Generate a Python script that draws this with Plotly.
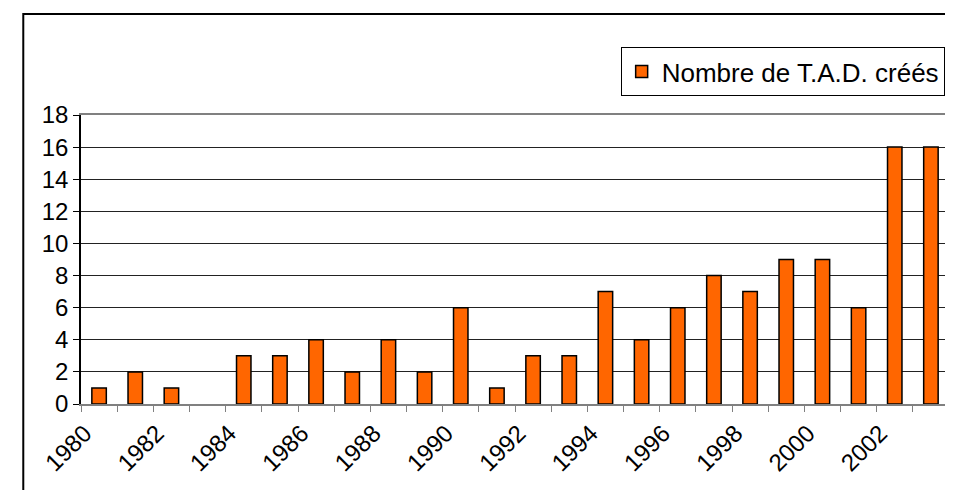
import plotly.graph_objects as go

years = list(range(1980, 2004))
counts = [1, 2, 1, 0, 3, 3, 4, 2, 4, 2, 6, 1, 3, 3, 7, 4, 6, 8, 7, 9, 9, 6, 16, 16]
label_years = list(range(1980, 2004, 2))
series_name = "Nombre de T.A.D. créés"

fig = go.Figure()
fig.add_trace(go.Bar(
    x=years, y=counts, name=series_name,
    marker=dict(color="#FF6600",
                line=dict(color="black", width=[1.5 if c else 0 for c in counts])),
))

# page has an 8px body margin, so the figure is a bit smaller than the window
fig.update_layout(
    width=945, height=482,
    margin=dict(l=73, r=4, t=107, b=86),
    paper_bgcolor="white", plot_bgcolor="white",
    font=dict(family="Liberation Sans, Arial", size=24, color="black"),
    bargap=0.6,
    showlegend=True,
    legend=dict(
        x=0.995, y=1.235, xanchor="right", yanchor="top",
        bordercolor="black", borderwidth=1, bgcolor="white",
        font=dict(size=26),
        itemwidth=30,
    ),
    xaxis=dict(
        range=[1979.5, 2003.5],
        tickvals=[y - 0.4 for y in label_years],
        ticktext=[str(y) for y in label_years],
        tickangle=-45, ticks="", ticklabelstandoff=4,
        showgrid=False, zeroline=False,
        showline=True, linecolor="#808080", linewidth=1.5, mirror=True,
        minor=dict(tickvals=[y - 0.5 for y in years] + [2003.5],
                   ticks="outside", ticklen=6, tickcolor="#808080", showgrid=False),
    ),
    yaxis=dict(
        range=[0, 18], dtick=2,
        ticks="outside", ticklen=6, tickcolor="black",
        showgrid=True, gridcolor="#222222", gridwidth=1,
        zeroline=False,
        showline=True, linecolor="black", linewidth=1.5,
    ),
    shapes=[
        # right border of plot area
        dict(type="line", xref="paper", yref="paper", x0=1, x1=1, y0=0, y1=1,
             line=dict(color="#808080", width=2)),
        # outer chart frame
        dict(type="rect", xref="paper", yref="paper",
             x0=-0.0665, x1=1.02, y0=-0.32, y1=1.3495,
             line=dict(color="black", width=2)),
    ],
)

fig.write_html("out.html")
